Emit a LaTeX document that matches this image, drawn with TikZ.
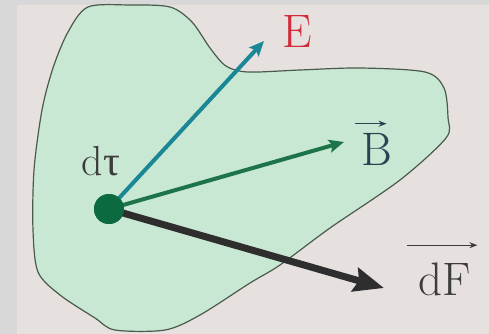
\documentclass[tikz,border=0pt]{standalone}
\usepackage{fontspec}
\newfontfamily\tms{Liberation Serif}
\usetikzlibrary{arrows.meta,calc}
\definecolor{bgout}{HTML}{D8D8D8}
\definecolor{bgin}{HTML}{E6E1DF}
\definecolor{blobfill}{HTML}{C9E8D3}
\definecolor{blobline}{HTML}{4A5A4C}
\definecolor{ecol}{HTML}{1A8696}
\definecolor{bcol}{HTML}{1C7448}
\definecolor{fcol}{HTML}{2E2E2E}
\definecolor{dotcol}{HTML}{0B6A40}
\definecolor{elab}{HTML}{D02C3C}
\definecolor{blab}{HTML}{2C4252}
\definecolor{glab}{HTML}{3C3C3C}
\tikzset{
  lab/.style={inner sep=0pt, anchor=base, font=\rmfamily\fontsize{47}{50}\selectfont},
  vecarrow/.style={line width=4pt, -{Stealth[length=15pt,width=13pt,inset=3pt]}},
  bigarrow/.style={line width=7pt, -{Stealth[length=30pt,width=24pt,inset=4pt]}},
  overarrow/.style={line width=1pt, -{Stealth[length=8pt,width=6pt]}}
}
\begin{document}
\begin{tikzpicture}[x=1pt,y=-1pt]
\useasboundingbox (0,0) rectangle (489,334);
\fill[bgout] (0,0) rectangle (489,334);
\fill[bgin] (17,5) rectangle (489,334);
% blob
\draw[blobline, fill=blobfill, line width=1.2pt]
  plot[smooth cycle, tension=0.5] coordinates {
  (88,7) (130,5) (170,7) (192,22) (210,48) (226,66) (248,72) (300,70) (360,68)
  (425,72) (444,88) (448,118) (446,138) (400,180) (330,228) (280,265)
  (250,283) (200,315) (165,330) (115,330) (95,318) (60,295) (38,272)
  (33,230) (34,170) (42,110) (53,68) (68,32)};
% dot and tips
\node[circle, fill=dotcol, minimum size=30pt, inner sep=0pt] (dot) at (109,209) {};
\coordinate (etip) at (264,41);
\coordinate (btip) at (344,142);
\coordinate (ftip) at (384,288);
\draw[vecarrow, ecol] (dot.center) -- (etip);
\draw[vecarrow, bcol] (dot.center) -- (btip);
\draw[bigarrow, fcol] (dot.center) -- (ftip);
\node[circle, fill=dotcol, minimum size=30pt, inner sep=0pt] at (dot) {};
% labels
\node[lab, elab] (E) at (297,48) {E};
\node[lab, blab] (B) at (377,165) {B};
\draw[overarrow, blab] ($(B.north west)+(-6,-9)$) -- ($(B.north east)+(-6,-9)$);
\node[lab, glab] (dF) at (445,295) {dF};
\draw[overarrow, glab] ($(dF.north west)+(-12,-17)$) -- ($(dF.north east)+(6,-17)$);
\node[lab, glab, font=\rmfamily\fontsize{42}{46}\selectfont] (dtau) at (101,175) {d{\tms τ}};
\end{tikzpicture}
\end{document}
